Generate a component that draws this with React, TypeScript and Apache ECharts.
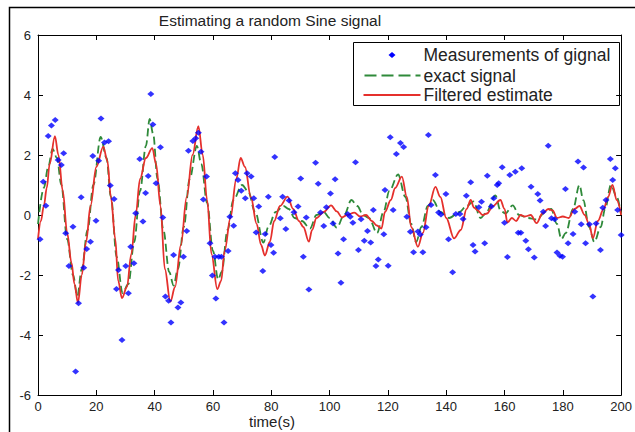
import React, { useEffect, useRef } from "react";
import * as echarts from "echarts";

// ---- data ----
const measurementTimes = [
  0.7, 1.8, 2.7, 3.5, 4.6, 5.9, 6.9, 8.0, 8.8, 9.5, 10.6, 12.0, 12.9, 13.9, 14.8, 15.7, 16.7, 18.0, 18.8, 19.9,
  20.8, 21.6, 22.8, 24.2, 24.8, 26.1, 26.9, 27.6, 28.8, 30.1, 31.0, 31.8, 32.9, 33.5, 34.9, 36.0, 36.9, 37.8, 38.7, 39.4,
  40.5, 42.0, 42.8, 43.7, 44.8, 45.6, 46.5, 48.0, 49.0, 49.9, 51.0, 51.6, 53.1, 54.1, 55.0, 55.9, 56.7, 57.8, 59.0, 59.8,
  60.7, 61.0, 62.0, 62.9, 63.8, 65.2, 65.8, 67.1, 67.7, 68.6, 69.7, 71.1, 71.7, 73.1, 74.0, 74.8, 75.7, 77.1, 77.9, 79.0,
  79.9, 80.8, 81.2, 83.1, 83.9, 85.0, 86.1, 87.8, 89.2, 90.1, 91.0, 92.0, 92.9, 95.2, 96.1, 96.9, 98.0, 98.9, 100.3, 101.2,
  101.9, 102.9, 103.9, 104.8, 106.2, 107.1, 108.0, 108.9, 109.9, 110.8, 111.9, 113.0, 114.1, 115.0, 115.9, 116.7, 118.6, 119.0, 120.1, 120.8,
  121.8, 122.9, 124.3, 125.4, 126.5, 127.7, 128.8, 130.3, 131.1, 132.0, 133.1, 133.9, 134.8, 136.3, 137.4, 138.2, 139.9, 140.8, 142.2, 143.3,
  144.7, 145.8, 146.9, 148.4, 149.2, 149.9, 151.2, 152.1, 153.2, 154.1, 155.5, 156.3, 157.5, 158.0, 159.2, 160.0, 161.0, 161.8, 163.7, 164.7,
  165.6, 165.9, 167.3, 168.2, 169.1, 170.2, 171.4, 172.2, 173.3, 174.1, 175.0, 176.1, 177.2, 178.0, 179.0, 179.9, 180.9, 181.8, 183.5, 184.1,
  185.2, 186.3, 187.1, 187.8, 189.1, 190.3, 191.4, 192.9, 193.7, 194.8, 196.3, 197.1, 198.0, 198.8, 200.0,
];
const measurementValues = [
  -0.81, 1.11, 0.31, 2.63, 2.98, 3.17, 1.83, 1.67, 2.06, -0.61, -1.7, -0.39, -5.22, -2.94, 0.59, -1.76, -1.13, -0.89, 1.97, -0.19,
  1.81, 3.22, 2.42, 2.46, 0.98, 0.53, -2.47, -1.83, -4.17, -1.7, -2.61, -1.06, -1.61, 0.06, 1.87, -0.22, 0.73, 1.3, 4.03, 3.02,
  1.06, 2.26, -0.08, -2.72, -2.86, -3.58, -1.33, -3.08, -2.92, -1.39, -0.53, 2.14, 2.47, 2.56, 2.74, 2.11, 0.52, 1.28, -0.94, -2.02,
  -1.39, -2.78, -1.39, -1.39, -3.58, -1.2, -0.06, -0.36, 1.39, 1.17, 0.81, 0.56, 1.39, 1.28, 0.56, -0.58, 0.28, -1.87, -0.63, 0.61,
  -1.0, -1.26, 1.93, -0.11, 0.61, -0.47, 0.48, 0.09, 0.28, 1.22, -1.39, -0.08, -2.48, 1.74, 1.04, 0.08, -0.37, 0.26, 0.72, -0.28,
  1.19, -1.28, -2.26, -0.81, 0.03, -0.06, -0.26, 1.76, -1.17, -0.14, -0.86, -0.53, -0.92, 0.17, -1.7, -1.48, -0.64, 0.83, -1.69, 2.59,
  0.17, 2.03, 2.4, 2.27, -0.06, -0.56, -1.24, -0.55, -0.65, -1.24, -0.41, 2.67, 0.33, 1.33, 0.08, 0.02, 0.7, -0.81, -1.91, 0.03,
  0.03, -0.13, 0.64, 1.09, -1.0, -1.22, 0.26, 0.44, -0.94, 1.31, 0.28, 0.56, 1.0, 1.06, 1.59, -0.26, -1.4, 1.33, 1.44, -0.59,
  -0.59, 1.56, -0.86, -1.14, 0.94, -1.42, 0.7, 0.48, 0.11, -0.37, 2.31, -0.11, -0.14, -1.25, -1.36, -1.39, 0.87, -0.94, -0.63, 0.11,
  1.78, -0.31, 1.58, -0.94, -0.31, -2.72, -0.28, -1.17, 0.24, 0.5, 1.87, 1.17, 1.56, 0.17, -0.67,
];

const exactTimes = [
  0, 2, 3.5, 5, 6.5, 8, 10, 12, 13.5, 15, 17, 19, 21.5, 23.5, 25, 27, 29, 31, 33, 35,
  37, 38.3, 39.5, 41, 43, 45, 46.5, 48, 50, 52, 54.5, 56, 58, 60, 61.8, 63, 65, 67, 70, 72,
  74.5, 77.3, 79, 81.5, 84.2, 86, 88, 90.5, 93.3, 95.5, 98, 100, 102.5, 105, 107.5, 109.5, 111.5, 113.5, 116.3, 118.5,
  120.5, 123.5, 126, 128, 129.7, 131.5, 133.7, 135.4, 138, 141, 144.5, 147, 149.3, 151.8, 153.5, 156.9, 158.6, 160.3, 162.8, 165,
  168, 171, 174, 176, 178, 179.5, 181, 183.5, 185.7, 187, 189, 190.8, 193, 194.5, 196.5, 198.5, 200,
];
const exactValues = [
  -0.3, 0.9, 1.6, 2.2, 1.9, 1.0, -0.8, -2.0, -2.7, -1.8, -0.5, 1.0, 2.6, 1.9, 0.6, -1.4, -2.6, -2.3, -0.9, 0.8,
  2.3, 3.2, 2.7, 1.2, -0.5, -1.9, -2.35, -1.8, -0.4, 1.2, 2.3, 1.7, 0.4, -1.2, -2.15, -1.9, -0.5, 0.5, 1.0, 0.8,
  0.1, -0.92, -0.4, 0.1, 0.3, 0.2, -0.1, -0.2, -0.45, 0.0, 0.1, -0.1, -0.42, 0.0, 0.5, 0.3, 0.0, -0.1, -0.6, 0.1,
  0.8, 1.35, 0.6, -0.3, -0.9, -0.4, 0.3, 0.5, 0.1, -0.1, 0.1, 0.3, 0.45, -0.1, 0.05, 0.65, 0.15, 0.05, 0.32, 0.0,
  -0.1, -0.15, 0.1, 0.2, -0.3, -0.8, -0.6, 0.2, 1.0, 0.5, -0.4, -0.9, -0.4, 0.2, 1.0, 0.6, 0.0,
];

const filteredTimes = [
  0, 1, 2, 3, 4, 5.8, 7, 8.5, 10, 11.5, 12.5, 13.7, 15, 16.5, 18, 20, 22.4, 23.8, 25, 26.5,
  27.5, 28.8, 30.5, 32, 33.5, 35, 37, 39.2, 40.5, 42, 43.5, 45.4, 47, 49, 51, 53, 55, 56.5, 58, 59.5,
  61.5, 62.8, 64, 66, 68, 69.5, 71, 73, 75, 76.5, 77.8, 79.5, 81, 83, 85.6, 87.5, 89.5, 91, 92.9, 94,
  95.5, 98, 100.5, 102.5, 104.2, 106, 108.5, 110.5, 112.5, 114.5, 116.2, 117.8, 119, 121, 122.5, 124.8, 126.5, 128, 130.3, 132,
  134, 136.3, 138, 140, 142.7, 145, 147, 148.4, 149.5, 150.8, 152.5, 154, 156, 158.6, 160, 161, 162.5, 164, 165.5, 167,
  169, 171, 173, 175, 176.5, 178, 180, 182, 184, 185.7, 187.5, 189, 190.3, 192, 194, 195.5, 197, 198.5, 200,
];
const filteredValues = [
  -0.8, -0.2, 0.3, 0.9, 1.7, 2.63, 2.0, 0.8, -0.6, -1.6, -2.3, -2.93, -2.0, -0.9, 0.3, 1.6, 2.28, 1.8, 0.6, -0.8,
  -2.2, -2.77, -2.4, -1.3, 0.0, 1.2, 1.9, 2.23, 1.7, 0.3, -1.8, -2.89, -2.4, -1.0, 0.6, 2.0, 2.96, 2.0, 0.5, -1.3,
  -2.47, -2.2, -1.2, -0.1, 1.2, 1.9, 1.6, 0.6, -0.3, -1.0, -1.35, -0.9, -0.2, 0.3, 0.61, 0.2, -0.2, -0.4, -0.89, -0.5,
  -0.1, 0.1, 0.32, 0.12, -0.08, 0.0, 0.08, -0.05, 0.0, -0.2, -0.35, -0.45, 0.1, 0.5, 0.9, 1.28, 0.6, -0.4, -1.06, -0.6,
  0.3, 0.94, 0.6, -0.1, -0.78, -0.5, 0.2, 0.5, 0.25, 0.15, 0.0, 0.05, 0.3, 0.5, 0.2, -0.25, -0.1, -0.2, 0.0, -0.05,
  0.0, -0.27, 0.05, 0.2, 0.15, -0.1, -0.05, -0.1, 0.2, 0.3, 0.0, -0.3, -0.77, -0.2, 0.2, 0.6, 1.0, 0.5, 0.0,
];

const titleText = "Estimating a random Sine signal";
const xAxisName = "time(s)";
const legendNames = ["Measurements of gignal", "exact signal", "Filtered estimate"];
const xRange = [0, 200];
const xStep = 20;
const yRange = [-6, 6];
const yStep = 2;

const FONT = "'Liberation Sans', Arial, Helvetica, sans-serif";
const BLUE = "#0000ff";
const GREEN = "#2f8a3a";
const RED = "#e5302c";

const zip = (a: number[], b: number[]) => a.map((v, i) => [v, b[i]]);

export default function App() {
  const ref = useRef<HTMLDivElement>(null);

  useEffect(() => {
    if (!ref.current) return;
    const chart = echarts.init(ref.current, undefined, { renderer: "svg" });

    const baseAxis = {
      type: "value" as const,
      splitLine: { show: false },
      axisLine: { show: true, onZero: false, lineStyle: { color: "#000", width: 1 } },
      axisTick: { show: true, inside: true, length: 5, lineStyle: { color: "#000", width: 1 } },
    };

    const legendX = 353.5;
    const legendY = 42.5;

    chart.setOption({
      animation: false,
      backgroundColor: "#fff",
      grid: { left: 38, right: 8, top: 35, bottom: 37, containLabel: false },
      xAxis: [
        {
          ...baseAxis,
          min: xRange[0],
          max: xRange[1],
          interval: xStep,
          axisLabel: { color: "#222", fontFamily: FONT, fontSize: 13, margin: 5 },
        },
        {
          ...baseAxis,
          position: "top",
          min: xRange[0],
          max: xRange[1],
          interval: xStep,
          axisLabel: { show: false },
        },
      ],
      yAxis: [
        {
          ...baseAxis,
          min: yRange[0],
          max: yRange[1],
          interval: yStep,
          axisLabel: { color: "#222", fontFamily: FONT, fontSize: 13, margin: 7 },
        },
        {
          ...baseAxis,
          position: "right",
          min: yRange[0],
          max: yRange[1],
          interval: yStep,
          axisLabel: { show: false },
        },
      ],
      series: [
        {
          name: legendNames[1],
          type: "line",
          data: zip(exactTimes, exactValues),
          showSymbol: false,
          smooth: 0.35,
          smoothMonotone: "x",
          lineStyle: { color: GREEN, width: 1.8, type: [8, 4] },
          z: 2,
        },
        {
          name: legendNames[2],
          type: "line",
          data: zip(filteredTimes, filteredValues),
          showSymbol: false,
          smooth: 0.35,
          smoothMonotone: "x",
          lineStyle: { color: RED, width: 1.8 },
          z: 3,
        },
        {
          name: legendNames[0],
          type: "scatter",
          data: zip(measurementTimes, measurementValues),
          symbol: "diamond",
          symbolSize: [7, 6],
          itemStyle: { color: BLUE },
          z: 4,
        },
      ],
      graphic: [
        {
          type: "rect",
          silent: true,
          shape: { x: 9.5, y: 7.5, width: 700, height: 500 },
          style: { fill: "none", stroke: "#000", lineWidth: 1.5 },
          z: 100,
        },
        {
          type: "text",
          x: 270,
          y: 20,
          style: {
            text: titleText,
            fontFamily: FONT,
            fontSize: 15.5,
            fill: "#222",
            align: "center",
            verticalAlign: "middle",
          },
        },
        {
          type: "text",
          x: 272,
          y: 421,
          style: {
            text: xAxisName,
            fontFamily: FONT,
            fontSize: 15,
            fill: "#222",
            align: "center",
            verticalAlign: "middle",
          },
        },
        {
          type: "group",
          x: legendX,
          y: legendY,
          z: 50,
          children: [
            {
              type: "rect",
              shape: { x: 0, y: 0, width: 266, height: 63 },
              style: { fill: "#fff", stroke: "#000", lineWidth: 1 },
            },
            {
              type: "polygon",
              shape: { points: [[38.5, 9.5], [42, 12.5], [38.5, 15.5], [35, 12.5]] },
              style: { fill: BLUE },
            },
            {
              type: "line",
              shape: { x1: 11, y1: 33, x2: 67, y2: 33 },
              style: { stroke: GREEN, lineWidth: 1.8, lineDash: [12, 5] },
            },
            {
              type: "line",
              shape: { x1: 10, y1: 52.5, x2: 67, y2: 52.5 },
              style: { stroke: RED, lineWidth: 1.8 },
            },
            {
              type: "text",
              x: 70,
              y: 12.5,
              style: { text: legendNames[0], fontFamily: FONT, fontSize: 17.5, fill: "#222", verticalAlign: "middle" },
            },
            {
              type: "text",
              x: 70,
              y: 33,
              style: { text: legendNames[1], fontFamily: FONT, fontSize: 17.5, fill: "#222", verticalAlign: "middle" },
            },
            {
              type: "text",
              x: 70,
              y: 52.5,
              style: { text: legendNames[2], fontFamily: FONT, fontSize: 17.5, fill: "#222", verticalAlign: "middle" },
            },
          ],
        },
      ],
    });

    return () => chart.dispose();
  }, []);

  return (
    <div
      ref={ref}
      style={{ position: "fixed", left: 0, top: 0, width: 635, height: 432, background: "#fff" }}
    />
  );
}
